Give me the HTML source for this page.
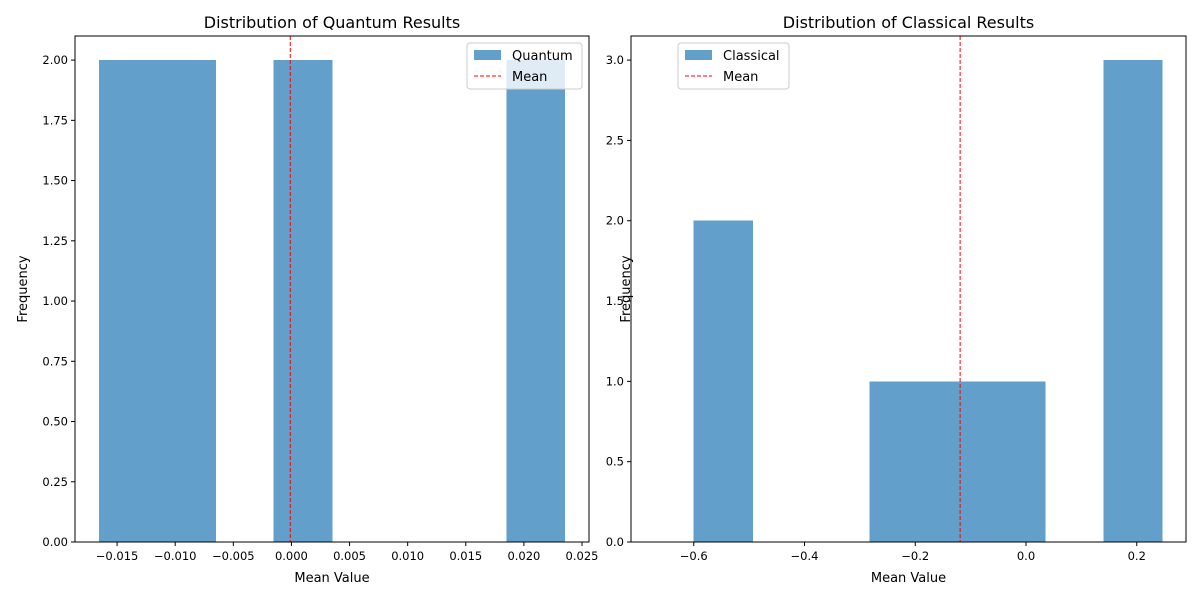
<!DOCTYPE html>
<html><head><meta charset="utf-8"><style>
body{margin:0;background:#fff}
svg text{font-family:"DejaVu Sans","Liberation Sans",sans-serif;fill:#000}
</style></head><body>
<svg id="c" width="1200" height="600" xmlns="http://www.w3.org/2000/svg"></svg>
<script>
const qEdgesStart=-0.01655, qEdgesEnd=0.0235;
const qCounts=[2,2,0,2,0,0,0,2];
const qMean=-0.0001;
const qXTicks=[-0.015,-0.010,-0.005,0.000,0.005,0.010,0.015,0.020,0.025];
const qXLabels=["\u22120.015","\u22120.010","\u22120.005","0.000","0.005","0.010","0.015","0.020","0.025"];
const qYTicks=[0,0.25,0.5,0.75,1.0,1.25,1.5,1.75,2.0];
const qYLabels=["0.00","0.25","0.50","0.75","1.00","1.25","1.50","1.75","2.00"];
const cEdgesStart=-0.6, cEdgesEnd=0.2456;
const cCounts=[2,0,0,1,1,1,0,3];
const cMean=-0.119;
const cXTicks=[-0.6,-0.4,-0.2,0.0,0.2];
const cXLabels=["\u22120.6","\u22120.4","\u22120.2","0.0","0.2"];
const cYTicks=[0,0.5,1.0,1.5,2.0,2.5,3.0];
const cYLabels=["0.0","0.5","1.0","1.5","2.0","2.5","3.0"];

const svg=document.getElementById('c');
const NS="http://www.w3.org/2000/svg";
function el(t,a,p){const e=document.createElementNS(NS,t);for(const k in a)e.setAttribute(k,a[k]);(p||svg).appendChild(e);return e;}
function txt(s,a,p){const e=el('text',a,p);e.textContent=s;return e;}

function panel(o){
  const g=el('g',{});
  
  
  const L=o.L,R=o.R,T=36,B=542;
  const sx=v=>L+(v-o.xmin)/(o.xmax-o.xmin)*(R-L);
  const sy=v=>B-(v-0)/(o.ymax)*(B-T);
  const n=o.counts.length, w=(o.e1-o.e0)/n;
  o.counts.forEach((c,i)=>{
    if(!c)return;
    const r=el('rect',{x:sx(o.e0+i*w),y:sy(c),width:sx(o.e0+(i+1)*w)-sx(o.e0+i*w)+0.5,height:sy(0)-sy(c),fill:'#629fca','shape-rendering':'crispEdges'},g);
    
    
  });
  const m=el('line',{x1:sx(o.mean),x2:sx(o.mean),y1:T,y2:B,stroke:'red','stroke-width':1,'stroke-dasharray':'4,2'},g);
  
  
  el('rect',{x:L,y:T,width:R-L,height:B-T,fill:'none',stroke:'#000','stroke-width':1},g);
  o.xt.forEach((v,i)=>{const x=sx(v);el('line',{x1:x,x2:x,y1:B,y2:B+4,stroke:'#000'},g);
    const t=txt(o.xl[i],{x:x,y:B+18,'font-size':11.5,'text-anchor':'middle'},g);
    });
  o.yt.forEach((v,i)=>{const y=sy(v);el('line',{x1:L-4,x2:L,y1:y,y2:y,stroke:'#000'},g);
    const t=txt(o.yl[i],{x:L-7,y:y+4,'font-size':11.5,'text-anchor':'end'},g);
    });
  const ti=txt(o.title,{x:(L+R)/2,y:28,'font-size':16,'text-anchor':'middle'},g);
  
  const xa=txt('Mean Value',{x:(L+R)/2,y:582,'font-size':13,'text-anchor':'middle'},g);
  
  const ya=txt('Frequency',{x:0,y:0,'font-size':13,'text-anchor':'middle',transform:`translate(${o.yaX},${(T+B)/2}) rotate(-90)`},g);
  
  const lg=el('g',{},g);
  
  el('rect',{x:o.lx,y:43,width:o.lw,height:46,rx:3,fill:'rgba(255,255,255,0.8)',stroke:'#ccc'},lg);
  el('rect',{x:o.lx+7,y:50,width:27,height:10,fill:'#629fca'},lg);
  txt(o.label,{x:o.lx+45,y:60,'font-size':13},lg);
  el('line',{x1:o.lx+7,x2:o.lx+34,y1:76,y2:76,stroke:'red','stroke-dasharray':'4,2'},lg);
  txt('Mean',{x:o.lx+45,y:81,'font-size':13},lg);
}
panel({name:'quantum-panel',L:75,R:589,xmin:-0.01862,xmax:0.0256,ymax:2.1,e0:qEdgesStart,e1:qEdgesEnd,counts:qCounts,mean:qMean,xt:qXTicks,xl:qXLabels,yt:qYTicks,yl:qYLabels,title:'Distribution of Quantum Results',label:'Quantum',lx:467,lw:115,yaX:27});
panel({name:'classical-panel',L:631,R:1186,xmin:-0.7133,xmax:0.2889,ymax:3.15,e0:cEdgesStart,e1:cEdgesEnd,counts:cCounts,mean:cMean,xt:cXTicks,xl:cXLabels,yt:cYTicks,yl:cYLabels,title:'Distribution of Classical Results',label:'Classical',lx:678,lw:111,yaX:630});
</script>
</body></html>
